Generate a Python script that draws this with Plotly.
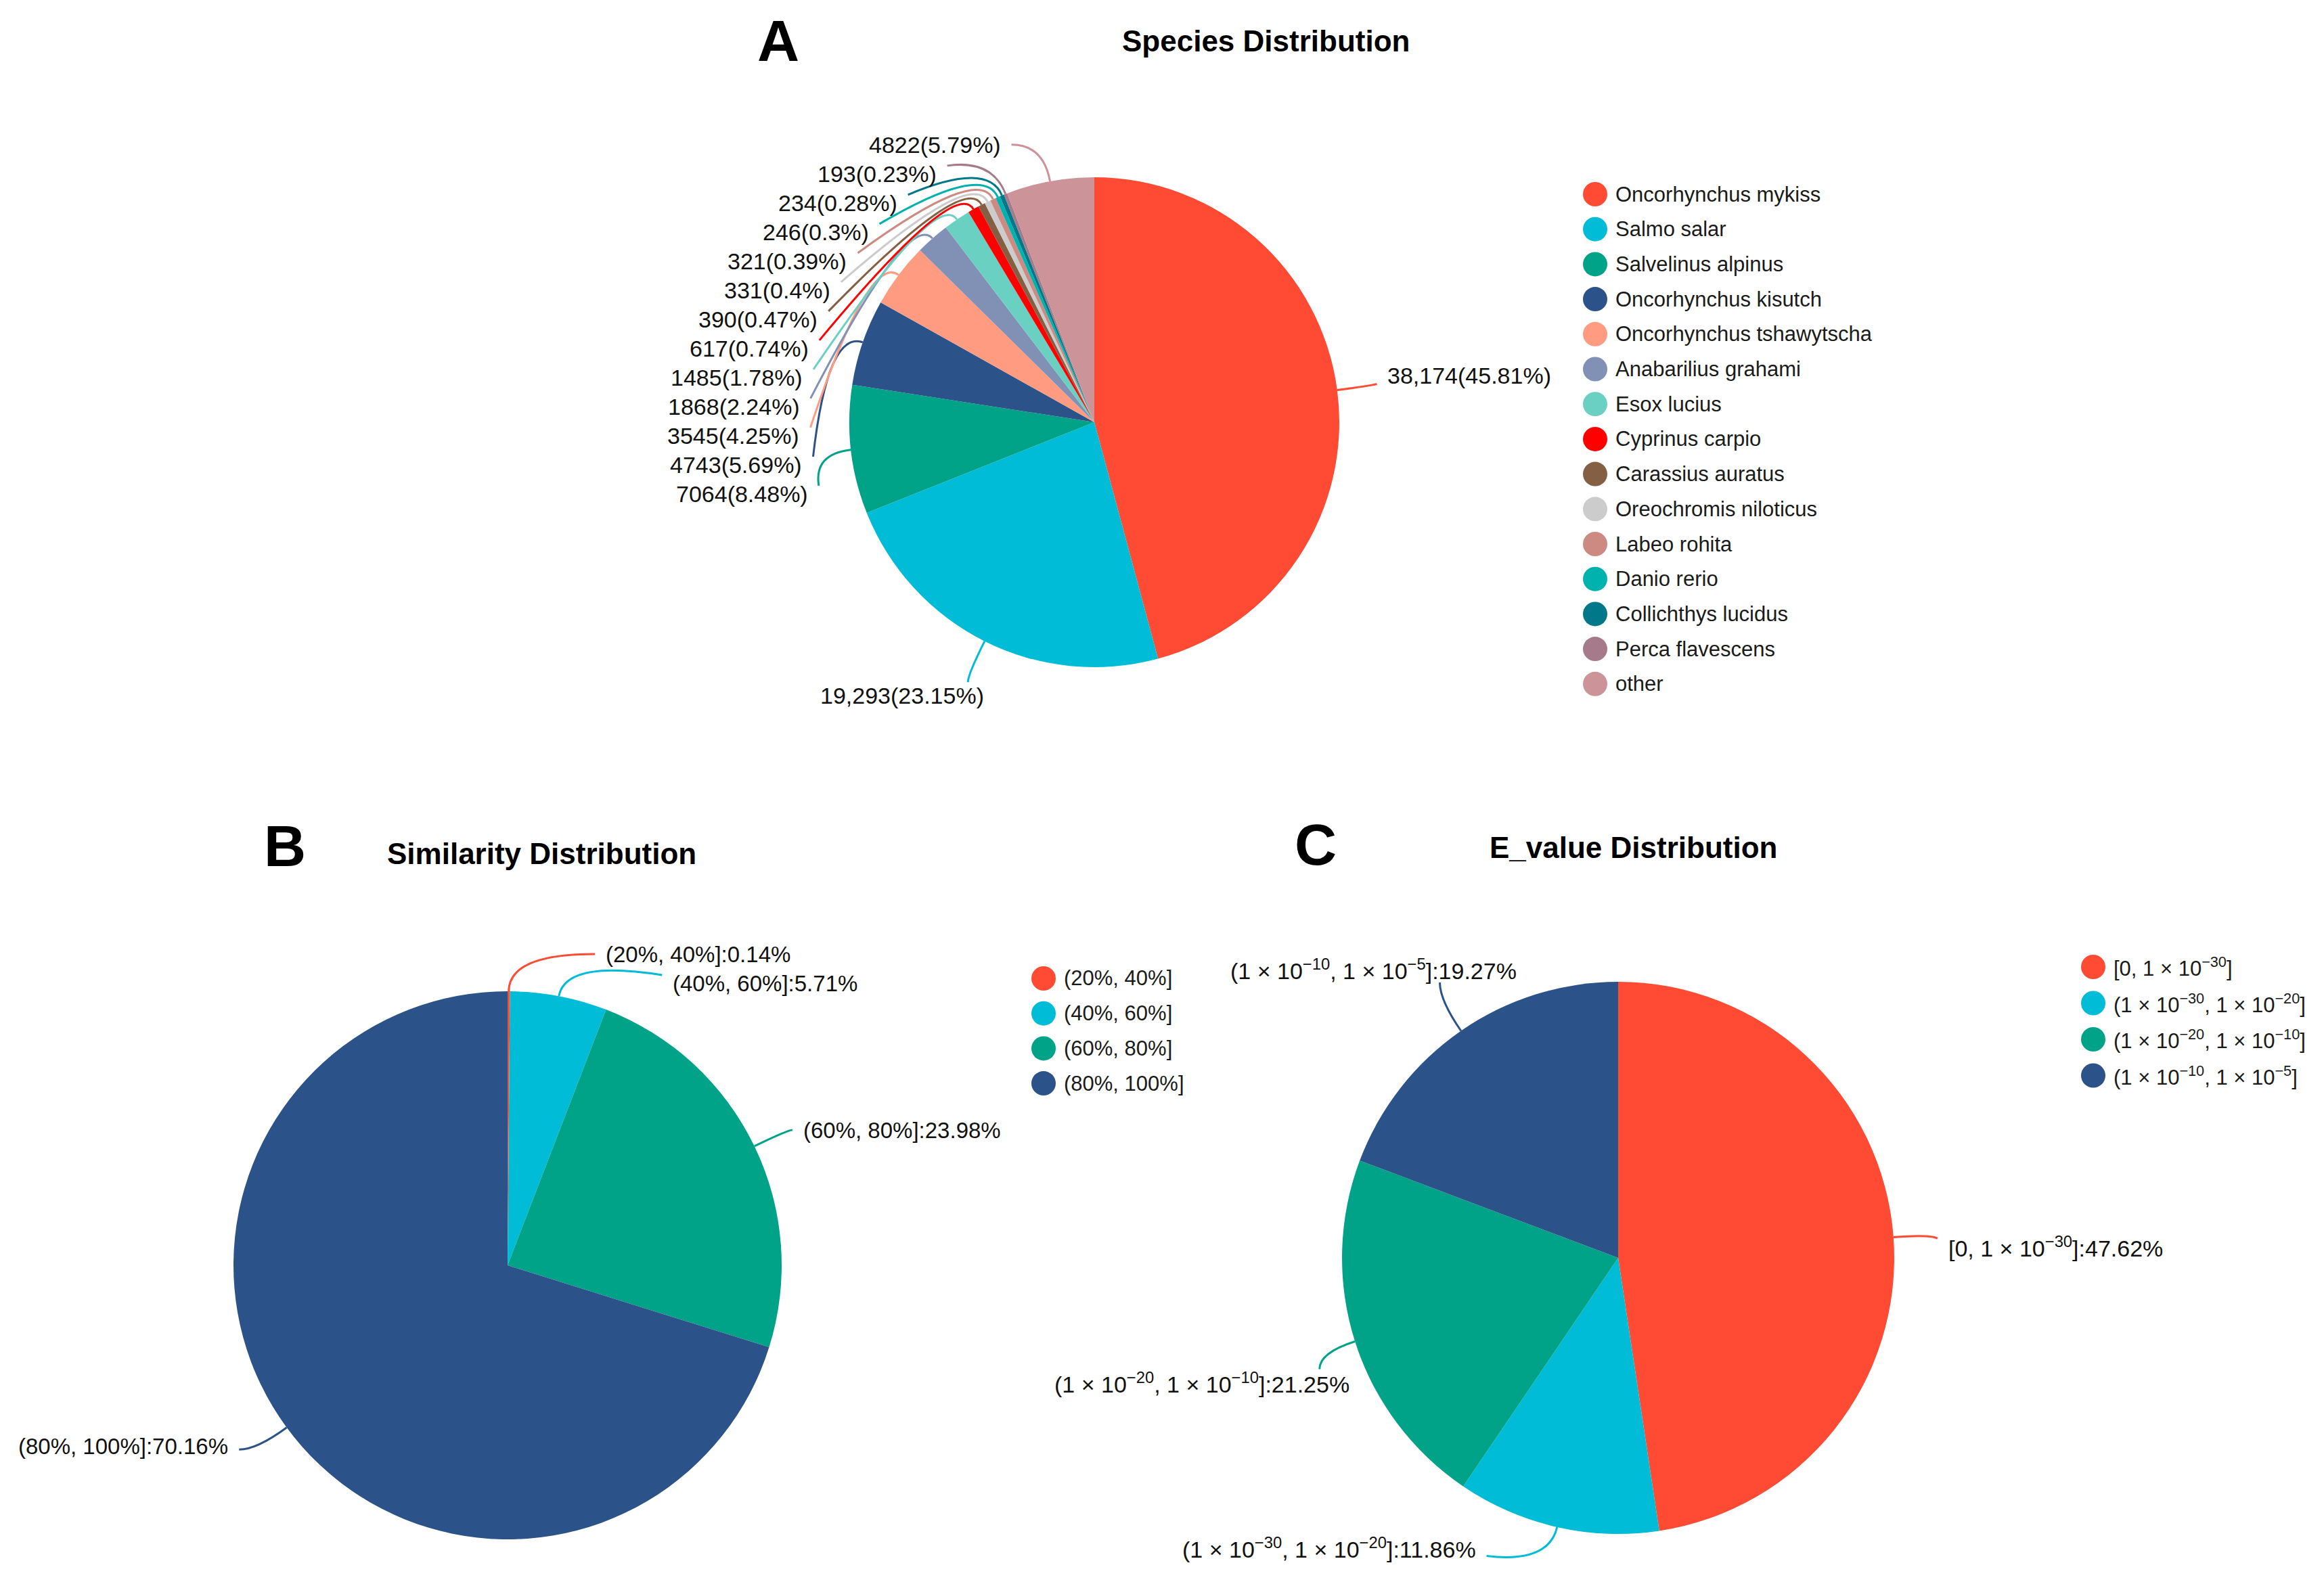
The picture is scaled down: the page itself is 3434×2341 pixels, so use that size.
import math
import re
import plotly.graph_objects as go

W, H = 3434, 2341
FONT = "Liberation Sans, Arial, Helvetica, sans-serif"

# ---------------- data ----------------
species = ["Oncorhynchus mykiss", "Salmo salar", "Salvelinus alpinus", "Oncorhynchus kisutch",
           "Oncorhynchus tshawytscha", "Anabarilius grahami", "Esox lucius", "Cyprinus carpio",
           "Carassius auratus", "Oreochromis niloticus", "Labeo rohita", "Danio rerio",
           "Collichthys lucidus", "Perca flavescens", "other"]
species_counts = [38174, 19293, 7064, 4743, 3545, 1868, 1485, 617, 390, 331, 321, 246, 234, 193, 4822]
species_colors = ["#FF4B33", "#00BCD6", "#00A387", "#2B5289", "#FF9B80", "#8191B5", "#6AD1C2",
                  "#FF0000", "#855F43", "#CCCCCC", "#CC8A82", "#00B2AE", "#00788A", "#A67A8A", "#CC9399"]

sim_bins = ["(20%, 40%]", "(40%, 60%]", "(60%, 80%]", "(80%, 100%]"]
sim_pct = [0.14, 5.71, 23.98, 70.16]

ev_bins = ["[0, 1 × 10<sup>−30</sup>]",
           "(1 × 10<sup>−30</sup>, 1 × 10<sup>−20</sup>]",
           "(1 × 10<sup>−20</sup>, 1 × 10<sup>−10</sup>]",
           "(1 × 10<sup>−10</sup>, 1 × 10<sup>−5</sup>]"]
ev_pct = [47.62, 11.86, 21.25, 19.27]

four_colors = ["#FF4B33", "#00BCD6", "#00A387", "#2B5289"]

# ---------------- layout / style constants (pixels) ----------------
SHIFT_X, SHIFT_Y = -8, -8
PANEL_A = dict(cx=1617, cy=624, r=362, font=34,
               nudge={0: (-22, -14), 1: (66, 31), 14: (-21, 0)})
PANEL_B = dict(cx=750, cy=1870, r=405, font=33,
               nudge={0: (101, 0), 3: (0, -5)})
PANEL_C = dict(cx=2391, cy=1859, r=408, font=34,
               nudge={0: (-16, 18), 1: (-66, -23), 2: (86, 44), 3: (155, -46)})


def X(px):
    return (px + SHIFT_X) / W


def Y(py):
    return 1 - (py + SHIFT_Y) / H


def fmt_pct(p):
    s = f"{p:.2f}".rstrip("0").rstrip(".")
    return s + "%"


def fmt_count(v):
    return f"{v:,}" if v >= 10000 else str(v)


AW = {**{d: 556 for d in "0123456789"}, "(": 333, ")": 333, "[": 278, "]": 278, ",": 278,
      ".": 278, ":": 278, "%": 889, " ": 278, "×": 584, "−": 584}


def text_width(s, size):
    total = 0.0
    for p in re.split(r"(<sup>.*?</sup>)", s):
        if p.startswith("<sup>"):
            total += sum(AW.get(ch, 556) for ch in p[5:-6]) * 0.7
        else:
            total += sum(AW.get(ch, 556) for ch in p)
    return total * size / 1000.0


def place_labels(values, texts, panel, L1=55, OFF=40, GAP=14, STEP=43, LEN2E=17):
    cx, cy, r, fs = panel["cx"], panel["cy"], panel["r"], panel["font"]
    nudge = panel.get("nudge", {})
    total = float(sum(values))
    items = []
    acc = 0.0
    for i, v in enumerate(values):
        a0 = acc / total * 2 * math.pi
        acc += v
        a1 = acc / total * 2 * math.pi
        m = (a0 + a1) / 2
        ux, uy = math.sin(m), -math.cos(m)
        side = 1 if ux >= 0 else -1
        x1, y1 = cx + r * ux, cy + r * uy
        x2, y2 = x1 + L1 * ux, y1 + L1 * uy
        ndx, ndy = nudge.get(i, (0, 0))
        items.append(dict(i=i, side=side, x1=x1, y1=y1, x2=x2, y2=y2,
                          tx=x2 + side * OFF + ndx, ty=y2 + ndy,
                          w=text_width(texts[i], fs)))
    for side in (-1, 1):
        lst = sorted([it for it in items if it["side"] == side], key=lambda it: it["ty"])
        moved = False
        for k in range(1, len(lst)):
            lo = lst[k - 1]["ty"] + STEP
            if lst[k]["ty"] < lo:
                lst[k]["ty"] = lo
                moved = True
        if moved:
            rA = r + L1
            semis = ([it for it in lst if it["ty"] <= cy], [it for it in lst if it["ty"] > cy])
            for semi in semis:
                if not semi:
                    continue
                far = max(semi, key=lambda it: abs(it["ty"] - cy))
                dyf = abs(far["ty"] - cy)
                dxf = far["tx"] - cx - LEN2E * side
                rB = math.sqrt(dyf ** 2 / (1 - dxf ** 2 / rA ** 2)) if abs(dxf) < rA else rA
                for it in semi:
                    if it is far:
                        continue
                    dy = abs(it["ty"] - cy)
                    val = max(0.0, 1 - dy ** 2 / rB ** 2)
                    it["tx"] = cx + (math.sqrt(val) * rA + LEN2E) * side
    half_h = 0.58 * fs
    for it in items:
        if it["side"] < 0:
            bl, br = it["tx"] - it["w"], it["tx"]
        else:
            bl, br = it["tx"], it["tx"] + it["w"]
        px, py = it["x2"], it["y2"]
        if px > br:
            ex, ey = br + GAP, min(max(py, it["ty"] - 12), it["ty"] + 12)
        elif px < bl:
            ex, ey = bl - GAP, min(max(py, it["ty"] - 12), it["ty"] + 12)
        else:
            ex = px
            ey = it["ty"] - half_h if py < it["ty"] else it["ty"] + half_h
        it["ex"], it["ey"] = ex, ey
    return items


fig = go.Figure()
shapes = []
annotations = []


def add_pie(values, labels, colors, panel, texts):
    cx, cy, r = panel["cx"], panel["cy"], panel["r"]
    fig.add_trace(go.Pie(
        values=values, labels=labels, sort=False, direction="clockwise", rotation=0,
        marker=dict(colors=colors, line=dict(width=0)),
        textinfo="none", hoverinfo="label+value+percent", showlegend=False,
        domain=dict(x=[X(cx - r), X(cx + r)], y=[Y(cy + r), Y(cy - r)]),
    ))
    for it in place_labels(values, texts, panel):
        c = colors[it["i"]]
        path = (f"M{X(it['x1'])},{Y(it['y1'])} Q{X(it['x2'])},{Y(it['y2'])} "
                f"{X(it['ex'])},{Y(it['ey'])}")
        shapes.append(dict(type="path", xref="paper", yref="paper", path=path,
                           line=dict(color=c, width=3), layer="above"))
        annotations.append(dict(
            x=X(it["tx"]), y=Y(it["ty"]), xref="paper", yref="paper",
            text=texts[it["i"]], showarrow=False,
            xanchor="right" if it["side"] < 0 else "left", yanchor="middle",
            font=dict(family=FONT, size=panel["font"], color="#111111")))


def add_legend(names, colors, xc, y0, step, rad=18):
    for k, (n, c) in enumerate(zip(names, colors)):
        yc = y0 + k * step
        shapes.append(dict(type="circle", xref="paper", yref="paper",
                           x0=X(xc - rad), x1=X(xc + rad), y0=Y(yc + rad), y1=Y(yc - rad),
                           fillcolor=c, line=dict(width=0)))
        annotations.append(dict(x=X(xc + rad + 10), y=Y(yc), xref="paper", yref="paper",
                                text=n, showarrow=False, xanchor="left", yanchor="middle",
                                font=dict(family=FONT, size=31, color="#1a1a1a")))


def add_title(letter, lx, ly, title, tx, ty):
    annotations.append(dict(x=X(lx), y=Y(ly), xref="paper", yref="paper", text=f"<b>{letter}</b>",
                            showarrow=False, xanchor="center", yanchor="middle",
                            font=dict(family=FONT, size=86, color="#000000")))
    annotations.append(dict(x=X(tx), y=Y(ty), xref="paper", yref="paper", text=f"<b>{title}</b>",
                            showarrow=False, xanchor="center", yanchor="middle",
                            font=dict(family=FONT, size=44, color="#000000")))


total_species = sum(species_counts)
species_texts = [f"{fmt_count(v)}({fmt_pct(v / total_species * 100)})" for v in species_counts]
sim_texts = [f"{b}:{fmt_pct(p)}" for b, p in zip(sim_bins, sim_pct)]
ev_texts = [f"{b}:{fmt_pct(p)}" for b, p in zip(ev_bins, ev_pct)]

add_pie(species_counts, species, species_colors, PANEL_A, species_texts)
add_pie(sim_pct, sim_bins, four_colors, PANEL_B, sim_texts)
add_pie(ev_pct, ev_bins, four_colors, PANEL_C, ev_texts)

add_legend(species, species_colors, 2357, 287, 51.7)
add_legend(sim_bins, four_colors, 1542, 1446, 51.7)
add_legend(ev_bins, four_colors, 3093, 1429, 53.5)

add_title("A", 1150, 60, "Species Distribution", 1870, 61)
add_title("B", 421, 1250, "Similarity Distribution", 800, 1261)
add_title("C", 1944, 1248, "E_value Distribution", 2413, 1252)

fig.update_layout(
    width=W, height=H, margin=dict(l=0, r=0, t=0, b=0),
    paper_bgcolor="white", plot_bgcolor="white", showlegend=False,
    shapes=shapes, annotations=annotations,
    font=dict(family=FONT),
)

fig.write_html("out.html")
